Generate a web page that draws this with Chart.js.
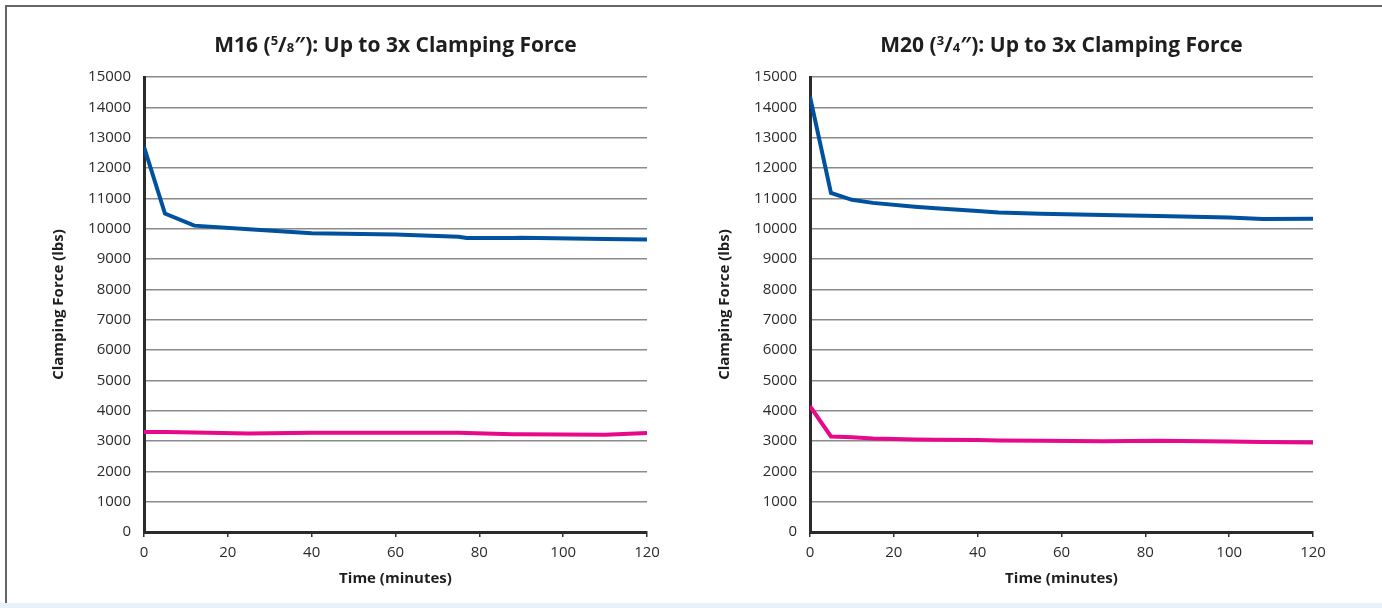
<!DOCTYPE html>
<html>
<head>
<meta charset="utf-8">
<title>Clamping Force</title>
<script src="https://cdn.jsdelivr.net/npm/chart.js@4/dist/chart.umd.min.js"></script>
<style>
    html, body { margin: 0; padding: 0; background: #fff; }
    body { width: 1382px; height: 608px; position: relative; overflow: hidden; }
    #frame { position: absolute; left: 5px; top: 5px; width: 1400px; height: 600px;
             border-top: 2px solid #666; border-left: 2px solid #666; box-sizing: border-box; }
    #strip { position: absolute; left: 0; top: 603px; width: 1382px; height: 5px; background: #e9f1fa; }
    .box { position: absolute; top: 6px; width: 666px; height: 597px; }
    #boxA { left: 6px; }
    #boxB { left: 672px; }
</style>
</head>
<body>
<div id="frame"></div>
<div id="strip"></div>
<div class="box" id="boxA"><canvas id="chartA"></canvas></div>
<div class="box" id="boxB"><canvas id="chartB"></canvas></div>
<script>
// M16 - thời gian (phút) và lực kẹp (lbs)
var timesM16 = [0, 5, 12, 25, 40, 60, 75, 77, 88, 90, 110, 120];
var blueM16 = [12700, 10500, 10100, 9980, 9850, 9810, 9730, 9690, 9690, 9700, 9660, 9640];
var pinkM16 = [3300, 3300, 3280, 3250, 3270, 3270, 3270, 3260, 3220, 3220, 3210, 3260];

// M20
var timesM20 = [0, 5, 10, 15, 25, 30, 40, 45, 55, 70, 83, 100, 108, 120];
var blueM20 = [14350, 11180, 10950, 10850, 10720, 10670, 10580, 10530, 10490, 10450, 10420, 10370, 10320, 10330];
var pinkM20 = [4150, 3150, 3120, 3080, 3050, 3040, 3030, 3020, 3010, 2990, 3010, 2980, 2970, 2950];

var xTicks = [0, 20, 40, 60, 80, 100, 120];
var yTicks = [0, 1000, 2000, 3000, 4000, 5000, 6000, 7000, 8000, 9000, 10000, 11000, 12000, 13000, 14000, 15000];

// tiêu đề: từng đoạn chữ (phân số nhỏ)
var titleM16 = [['M16 (', 0], ['5', 1], ['/', 0], ['8', 2], ['″): Up to 3x Clamping Force', 0]];
var titleM20 = [['M20 (', 0], ['3', 1], ['/', 0], ['4', 2], ['″): Up to 3x Clamping Force', 0]];

var BLUE = '#00519e';
var PINK = '#e8088a';
var TXT = '#2b2b2b';
var FONT = "'Open Sans', sans-serif";

function toPoints(xs, ys) {
    return xs.map(function (x, i) { return {x: x, y: ys[i]}; });
}

// Vẽ tiêu đề căn giữa vùng biểu đồ
var titlePlugin = {
    id: 'partTitle',
    afterDraw: function (chart) {
        var parts = chart.options.plugins.partTitle.parts;
        var ctx = chart.ctx;
        var area = chart.chartArea;
        var big = 'bold 21px ' + FONT;
        var small = 'bold 13px ' + FONT;
        ctx.save();
        ctx.fillStyle = '#1e1e1e';
        ctx.textBaseline = 'alphabetic';
        var total = 0;
        parts.forEach(function (p) {
            ctx.font = p[1] ? small : big;
            total += ctx.measureText(p[0]).width;
        });
        var x = (area.left + area.right) / 2 - total / 2;
        var base = 46;
        parts.forEach(function (p) {
            ctx.font = p[1] ? small : big;
            var dy = p[1] === 1 ? -7 : 0;
            ctx.fillText(p[0], x, base + dy);
            x += ctx.measureText(p[0]).width;
        });
        ctx.restore();
    }
};

function plain(value) {
    return String(value);
}

function makeChart(id, times, blue, pink, title) {
    return new Chart(document.getElementById(id), {
        type: 'line',
        data: {
            datasets: [{
                    data: toPoints(times, blue),
                    borderColor: BLUE,
                    borderWidth: 4,
                    pointRadius: 0,
                    tension: 0,
                    fill: false
                }, {
                    data: toPoints(times, pink),
                    borderColor: PINK,
                    borderWidth: 4,
                    pointRadius: 0,
                    tension: 0,
                    fill: false
                }]
        },
        options: {
            responsive: true,
            maintainAspectRatio: false,
            animation: false,
            layout: {padding: {left: 0, top: 71, right: 25, bottom: 0}},
            plugins: {
                legend: {display: false},
                tooltip: {enabled: false},
                partTitle: {parts: title}
            },
            scales: {
                x: {
                    type: 'linear',
                    min: 0,
                    max: 120,
                    afterBuildTicks: function (scale) {
                        scale.ticks = xTicks.map(function (v) { return {value: v}; });
                    },
                    afterFit: function (scale) { scale.height = 71; },
                    grid: {drawOnChartArea: false, drawTicks: true, tickLength: 5, color: '#333', lineWidth: 1.5},
                    border: {color: '#2b2b2b', width: 3},
                    ticks: {color: TXT, font: {family: FONT, size: 15}, padding: 7, maxRotation: 0, callback: plain},
                    title: {
                        display: true,
                        text: 'Time (minutes)',
                        color: '#1e1e1e',
                        font: {family: FONT, size: 15, weight: 'bold'},
                        padding: {top: 0, bottom: 15}
                    }
                },
                y: {
                    min: 0,
                    max: 15000,
                    afterBuildTicks: function (scale) {
                        scale.ticks = yTicks.map(function (v) { return {value: v}; });
                    },
                    afterFit: function (scale) { scale.width = 138; },
                    grid: {drawTicks: false, color: '#8a8a8a', lineWidth: 1.5},
                    border: {color: '#2b2b2b', width: 3},
                    ticks: {color: TXT, font: {family: FONT, size: 15}, padding: 13, callback: plain},
                    title: {
                        display: true,
                        text: 'Clamping Force (lbs)',
                        color: '#1e1e1e',
                        font: {family: FONT, size: 15, weight: 'bold'},
                        padding: {top: 44, bottom: 0}
                    }
                }
            }
        },
        plugins: [titlePlugin]
    });
}

makeChart('chartA', timesM16, blueM16, pinkM16, titleM16);
makeChart('chartB', timesM20, blueM20, pinkM20, titleM20);
</script>
</body>
</html>
